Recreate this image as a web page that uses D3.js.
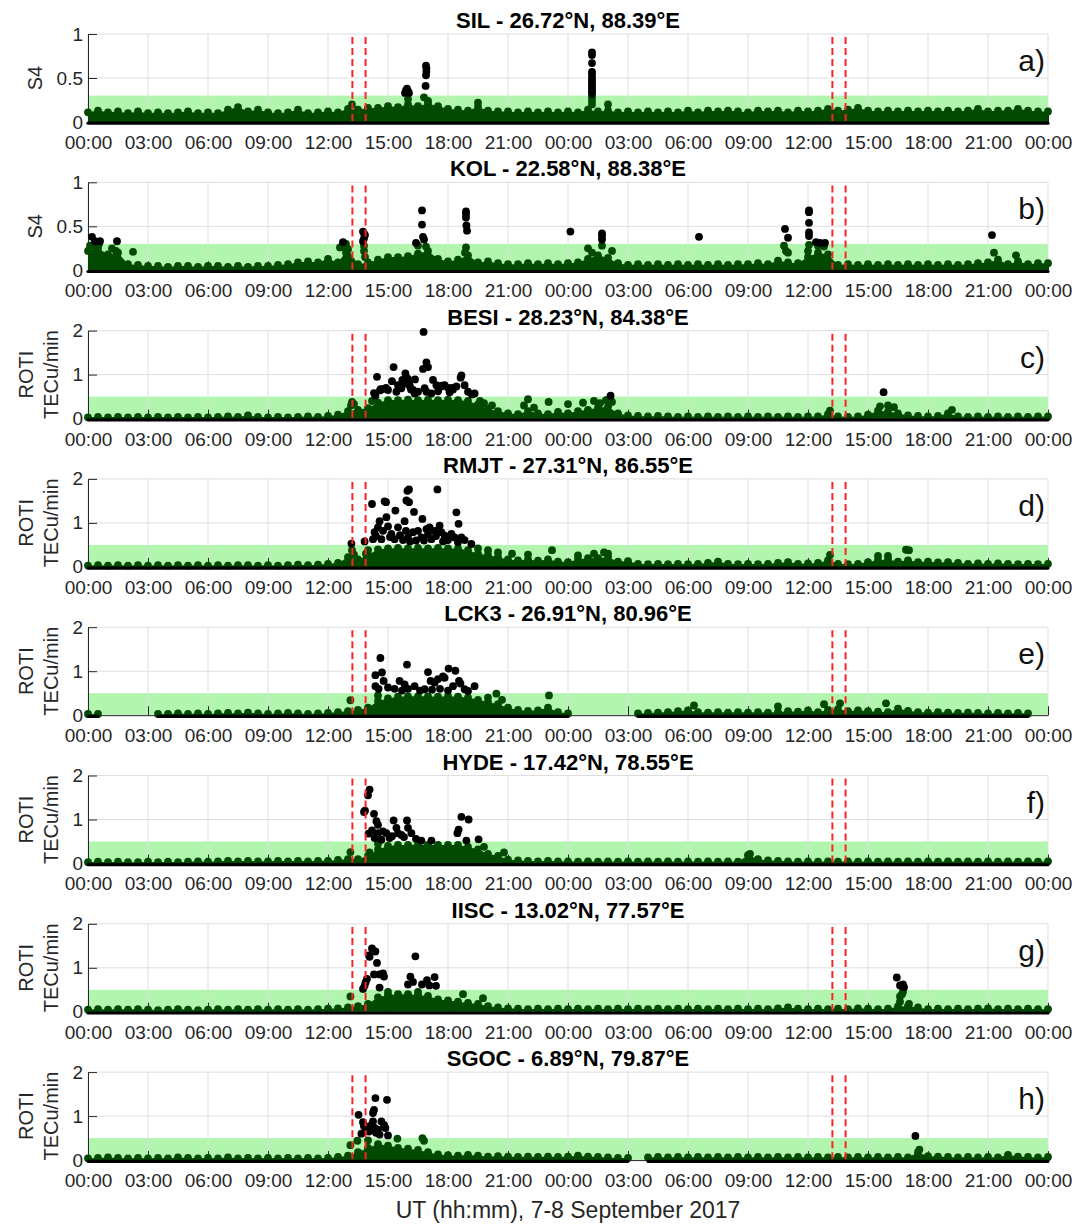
<!DOCTYPE html>
<html><head><meta charset="utf-8">
<script src="https://cdn.jsdelivr.net/npm/d3@7"></script>
<style>
body{margin:0;background:#fff}
svg{display:block}
text{font-family:"Liberation Sans",Arial,Helvetica,sans-serif}
</style>
</head><body>
<svg id="chart" width="1092" height="1224"></svg>
<script>
// ---------------- DATA ----------------
const hourTicks = [0,3,6,9,12,15,18,21,24,27,30,33,36,39,42,45,48];
const tickLabels = ["00:00","03:00","06:00","09:00","12:00","15:00","18:00","21:00","00:00","03:00","06:00","09:00","12:00","15:00","18:00","21:00","00:00"];
const stations = ["SIL - 26.72°N, 88.39°E","KOL - 22.58°N, 88.38°E","BESI - 28.23°N, 84.38°E","RMJT - 27.31°N, 86.55°E","LCK3 - 26.91°N, 80.96°E","HYDE - 17.42°N, 78.55°E","IISC - 13.02°N, 77.57°E","SGOC - 6.89°N, 79.87°E"];
const letters = ["a)","b)","c)","d)","e)","f)","g)","h)"];
const kinds = ["S4","S4","ROTI","ROTI","ROTI","ROTI","ROTI","ROTI"];
const yMax = [1,1,2,2,2,2,2,2];
const yTicksS4 = [0,0.5,1];
const yTickLabelsS4 = ["0","0.5","1"];
const yTicksROTI = [0,1,2];
const yTickLabelsROTI = ["0","1","2"];
const thresholds = [0.3,0.3,0.5,0.5,0.5,0.5,0.5,0.5];
const eventTimes = [13.22,13.88,37.22,37.88];
const xLabel = "UT (hh:mm), 7-8 September 2017";

// Upper envelope of the dense background cloud, every 30 min from 00:00 (7 Sep) to 00:00 (9 Sep); null = no data
const envA = [0.11,0.13,0.11,0.12,0.10,0.12,0.10,0.11,0.10,0.11,0.12,0.10,0.11,0.10,0.14,0.17,0.12,0.14,0.11,0.10,0.11,0.14,0.10,0.11,
  0.12,0.11,0.15,0.14,0.16,0.16,0.18,0.17,0.20,0.18,0.21,0.18,0.15,0.14,0.13,0.17,0.13,0.12,0.12,0.11,0.12,0.11,0.12,0.11,
  0.12,0.11,0.14,0.12,0.13,0.11,0.12,0.11,0.12,0.11,0.12,0.11,0.13,0.11,0.13,0.12,0.13,0.12,0.11,0.13,0.12,0.13,0.11,0.13,
  0.12,0.13,0.15,0.13,0.14,0.16,0.13,0.12,0.13,0.12,0.13,0.12,0.13,0.12,0.13,0.12,0.13,0.15,0.12,0.13,0.13,0.15,0.13,0.12,
  0.12];
const envB = [0.22,0.25,0.18,0.20,0.07,0.06,0.05,0.05,0.04,0.05,0.05,0.04,0.05,0.05,0.04,0.05,0.04,0.05,0.05,0.06,0.07,0.09,0.10,0.09,
  0.13,0.09,0.24,0.07,0.09,0.12,0.15,0.15,0.16,0.19,0.22,0.13,0.10,0.12,0.17,0.09,0.10,0.08,0.07,0.07,0.08,0.07,0.08,0.07,
  0.08,0.09,0.13,0.17,0.14,0.08,0.06,0.07,0.06,0.07,0.06,0.07,0.06,0.07,0.06,0.07,0.06,0.07,0.07,0.08,0.07,0.11,0.09,0.08,
  0.15,0.20,0.18,0.06,0.07,0.06,0.07,0.06,0.07,0.06,0.07,0.06,0.07,0.06,0.07,0.06,0.07,0.08,0.09,0.12,0.07,0.10,0.07,0.08,
  0.08];
const envC = [0.03,0.04,0.03,0.04,0.03,0.04,0.03,0.04,0.03,0.04,0.03,0.04,0.03,0.04,0.05,0.04,0.07,0.04,0.03,0.04,0.03,0.04,0.05,0.04,
  0.06,0.09,0.17,0.20,0.24,0.36,0.42,0.42,0.43,0.42,0.43,0.42,0.43,0.42,0.40,0.32,0.22,0.17,0.12,0.10,0.17,0.12,0.10,0.15,
  0.12,0.17,0.20,0.25,0.27,0.12,0.07,0.06,0.05,0.06,0.05,0.04,0.05,0.04,0.05,0.04,0.05,0.04,0.05,0.04,0.05,0.04,0.05,0.04,
  0.05,0.05,0.10,0.05,0.04,0.05,0.09,0.18,0.16,0.12,0.07,0.06,0.05,0.06,0.12,0.05,0.04,0.05,0.04,0.05,0.04,0.05,0.04,0.05,
  0.05];
const envD = [0.03,0.04,0.03,0.04,0.03,0.04,0.03,0.04,0.03,0.04,0.03,0.04,0.03,0.04,0.03,0.04,0.04,0.03,0.04,0.03,0.04,0.05,0.04,0.05,
  0.07,0.09,0.22,0.17,0.27,0.40,0.42,0.43,0.42,0.43,0.42,0.43,0.42,0.42,0.38,0.30,0.27,0.22,0.17,0.15,0.17,0.14,0.17,0.12,
  0.11,0.17,0.20,0.20,0.22,0.12,0.13,0.07,0.06,0.07,0.06,0.07,0.06,0.07,0.09,0.12,0.07,0.06,0.07,0.06,0.07,0.09,0.11,0.07,
  0.08,0.09,0.15,0.07,0.06,0.07,0.11,0.15,0.17,0.12,0.15,0.11,0.12,0.10,0.11,0.09,0.07,0.08,0.07,0.08,0.07,0.06,0.07,0.06,
  0.07];
const envE = [0.03,0.03,null,null,null,null,null,0.03,0.03,0.04,0.03,0.04,0.03,0.04,0.05,0.04,0.06,0.04,0.03,0.04,0.05,0.04,0.03,0.04,
  0.05,0.07,0.09,0.12,0.17,0.32,0.38,0.42,0.43,0.43,0.43,0.42,0.43,0.42,0.40,0.35,0.30,0.25,0.17,0.12,0.10,0.11,0.17,0.07,
  0.04,null,null,null,null,null,null,0.04,0.05,0.06,0.07,0.09,0.11,0.07,0.06,0.07,0.06,0.07,0.06,0.07,0.06,0.07,0.09,0.08,
  0.11,0.07,0.12,0.14,0.09,0.11,0.09,0.08,0.07,0.15,0.10,0.07,0.06,0.07,0.06,0.05,0.06,0.05,0.04,0.05,0.04,0.05,0.04,null,
  null];
const envF = [0.03,0.04,0.03,0.04,0.03,0.03,0.04,0.03,0.04,0.03,0.04,0.05,0.04,0.05,0.06,0.05,0.06,0.05,0.05,0.06,0.05,0.06,0.05,0.06,
  0.06,0.08,0.10,0.10,0.17,0.32,0.40,0.42,0.42,0.43,0.42,0.42,0.42,0.42,0.38,0.32,0.22,0.17,0.09,0.07,0.06,0.05,0.06,0.05,
  0.05,0.04,0.05,0.04,0.05,0.04,0.05,0.04,0.05,0.04,0.05,0.04,0.05,0.04,0.05,0.04,0.05,0.04,0.19,0.10,0.07,0.06,0.05,0.04,
  0.05,0.04,0.05,0.04,0.05,0.04,0.05,0.04,0.05,0.04,0.05,0.04,0.05,0.04,0.05,0.04,0.05,0.04,0.05,0.04,0.05,0.04,0.05,0.04,
  0.05];
const envG = [0.05,0.06,0.05,0.06,0.05,0.06,0.05,0.04,0.05,0.06,0.05,0.04,0.05,0.06,0.05,0.06,0.05,0.06,0.05,0.06,0.05,0.06,0.05,0.06,
  0.07,0.08,0.10,0.13,0.18,0.33,0.38,0.40,0.40,0.38,0.36,0.28,0.26,0.23,0.20,0.18,0.13,0.10,0.08,0.07,0.06,0.07,0.06,0.07,
  0.06,0.07,0.06,0.07,0.06,0.07,0.06,0.07,0.06,0.07,0.06,0.07,0.06,0.07,0.06,0.07,0.06,0.07,0.06,0.07,0.06,0.08,0.10,0.07,
  0.06,0.07,0.06,0.07,0.06,0.08,0.07,0.06,0.07,0.12,0.13,0.10,0.06,0.07,0.06,0.07,0.06,0.07,0.08,0.06,0.07,0.06,0.07,0.06,
  0.06];
const envH = [0.04,0.05,0.06,0.05,0.04,0.05,0.04,0.05,0.04,0.06,0.05,0.04,0.05,0.04,0.06,0.04,0.05,0.04,0.05,0.04,0.05,0.04,0.05,0.04,
  0.05,0.07,0.10,0.18,0.28,0.36,0.33,0.28,0.26,0.23,0.18,0.13,0.11,0.10,0.12,0.10,0.08,0.09,0.08,0.07,0.08,0.07,0.08,0.07,
  0.08,0.10,0.08,0.07,0.06,0.05,0.05,null,0.06,0.07,0.06,0.07,0.06,0.07,0.06,0.07,0.06,0.07,0.06,0.07,0.06,0.07,0.06,0.07,
  0.06,0.07,0.06,0.07,0.06,0.07,0.06,0.07,0.06,0.07,0.06,0.18,0.09,0.08,0.07,0.06,0.07,0.06,0.07,0.06,0.12,0.08,0.07,0.06,
  0.07];

// Individual points standing out of the cloud: [hour since 00:00 7 Sep, value]
const ptsA = [[15.85,0.33],[15.9,0.36],[15.95,0.38],[16.0,0.35],[16.05,0.33],[16.9,0.64],[16.92,0.61],[16.92,0.57],[16.9,0.53],[16.88,0.41],[16.8,0.28],
  [25.2,0.79],[25.2,0.76],[25.2,0.67],[25.2,0.57],[25.2,0.54],[25.2,0.5],[25.2,0.47],[25.2,0.44],[25.2,0.41],[25.2,0.38],[25.2,0.35],[25.2,0.32],[25.2,0.28],[25.2,0.24],[25.2,0.2],
  [13.2,0.2],[16.0,0.26],[17.0,0.24],[19.5,0.22],[26.0,0.2]];
const ptsB = [[0.2,0.38],[0.35,0.33],[0.6,0.33],[0.55,0.3],[1.45,0.33],[12.75,0.32],[12.9,0.3],[13.75,0.44],[13.8,0.42],[13.85,0.4],[13.8,0.36],[13.75,0.33],
  [16.4,0.31],[16.7,0.68],[16.7,0.52],[16.75,0.38],[16.8,0.35],[18.9,0.67],[18.9,0.64],[18.9,0.6],[18.92,0.51],[18.95,0.45],
  [24.12,0.44],[25.7,0.42],[25.7,0.39],[25.7,0.35],[30.55,0.38],[34.85,0.47],[35.0,0.37],[36.05,0.68],[36.05,0.66],[36.05,0.54],[36.05,0.43],[36.05,0.39],
  [36.4,0.32],[36.6,0.31],[36.85,0.31],[45.2,0.4],
  [0.1,0.28],[0.4,0.25],[1.2,0.25],[1.4,0.22],[2.25,0.21],[12.6,0.26],[12.8,0.27],[12.9,0.2],[13.8,0.28],[13.8,0.22],[13.85,0.15],[16.5,0.28],[16.9,0.27],
  [18.9,0.26],[18.85,0.2],[25.0,0.25],[25.2,0.2],[25.7,0.28],[26.2,0.22],[34.8,0.28],[34.9,0.22],[35.0,0.2],[36.05,0.29],[36.0,0.22],[36.5,0.28],[36.8,0.27],[45.3,0.2],[46.4,0.17]];
const ptsC = [[16.78,1.97],[14.45,0.95],[15.28,1.17],[16.92,1.28],[16.75,1.13],[17.0,1.17],[15.87,1.03],[15.72,0.88],[15.2,0.85],[14.75,0.67],[14.63,0.67],[14.37,0.52],
  [15.0,0.65],[15.5,0.76],[15.67,0.69],[15.83,0.8],[15.95,0.84],[16.1,0.73],[16.25,0.65],[16.5,0.61],[16.83,0.69],[16.92,0.61],[17.25,0.88],[17.42,0.76],
  [17.67,0.73],[17.83,0.76],[18.25,0.66],[18.42,0.73],[18.67,0.98],[18.63,0.93],[18.83,0.76],[19.0,0.61],[19.33,0.57],[15.42,0.61],[17.17,0.57],[18.08,0.6],
  [16.33,0.57],[15.9,0.95],[16.0,0.9],[16.05,0.78],[15.6,0.72],[17.5,0.62],[18.0,0.7],[19.2,0.55],[14.3,0.58],[14.6,0.64],[14.9,0.7],[16.35,0.89],[16.15,0.66],
  [17.7,0.75],[18.2,0.7],[26.13,0.52],[39.78,0.6],
  [13.2,0.38],[13.15,0.3],[13.3,0.33],[22.0,0.44],[23.03,0.38],[24.75,0.36],[25.3,0.4],[25.6,0.35],[25.9,0.42],[26.05,0.44],[26.2,0.38],[24.0,0.33],
  [39.6,0.28],[40.0,0.3],[40.3,0.26],[43.2,0.2],[37.1,0.18],[14.2,0.4],[19.6,0.4],[19.8,0.35],[20.2,0.3],[21.8,0.3],[22.3,0.25]];
const ptsD = [[17.47,1.76],[15.97,1.73],[16.05,1.76],[15.92,1.51],[16.05,1.47],[14.83,1.49],[14.9,1.47],[14.2,1.43],[15.37,1.28],[16.3,1.25],[14.92,1.13],
  [14.58,1.04],[15.83,1.04],[16.72,1.09],[18.42,1.24],[18.53,0.98],[14.5,0.9],[15.0,0.92],[15.5,0.9],[14.33,0.79],[14.75,0.82],[15.17,0.75],[16.25,0.79],
  [16.5,0.82],[16.92,0.86],[17.08,0.9],[17.33,0.82],[17.58,0.94],[17.67,0.79],[17.83,0.71],[18.17,0.75],[18.33,0.67],[18.67,0.67],[18.83,0.61],[14.25,0.63],
  [14.67,0.63],[15.33,0.63],[15.75,0.61],[16.0,0.67],[16.67,0.67],[17.17,0.63],[19.17,0.52],[13.17,0.53],[13.83,0.58],[18.0,0.61],[15.1,0.68],[15.6,0.72],
  [16.1,0.58],[16.8,0.6],[17.4,0.7],[17.9,0.62],[18.5,0.56],[14.4,0.7],[15.9,0.82],[16.4,0.6],[17.0,0.74],[17.75,0.58],
  [13.2,0.38],[13.3,0.28],[23.2,0.38],[40.9,0.39],[41.05,0.38],[37.1,0.27],[39.5,0.25],[40.0,0.25],[25.3,0.3],[25.8,0.33],[24.5,0.26],[26.0,0.3],
  [19.5,0.42],[20.0,0.38],[20.5,0.33],[21.2,0.3],[22.0,0.28],[14.0,0.38],[13.9,0.3]];
const ptsE = [[14.62,1.3],[15.95,1.15],[14.37,0.91],[14.7,0.97],[14.78,0.78],[14.37,0.66],[14.53,0.6],[15.58,0.78],[15.83,0.7],[16.33,0.66],[17.0,0.98],
  [17.13,0.78],[17.33,0.74],[17.5,0.82],[17.75,0.88],[18.03,1.06],[18.37,1.01],[17.83,0.85],[18.55,0.78],[18.62,0.72],[18.25,0.66],[18.83,0.59],[19.33,0.66],
  [15.33,0.6],[16.83,0.59],[15.0,0.63],[16.0,0.6],[16.6,0.56],[17.6,0.6],[18.0,0.56],[19.0,0.55],[15.7,0.56],[17.2,0.58],
  [13.12,0.34],[23.05,0.45],[20.42,0.49],[20.0,0.4],[20.7,0.35],[14.5,0.45],[36.8,0.25],[37.6,0.27],[39.9,0.27],[30.3,0.22],[34.5,0.2]];
const ptsF = [[14.08,1.68],[14.0,1.55],[13.8,1.17],[13.85,1.2],[14.3,1.13],[14.42,0.96],[14.5,0.88],[14.03,0.68],[14.5,0.69],[14.75,0.73],[14.92,0.69],
  [15.28,0.98],[15.42,0.81],[15.5,0.69],[15.95,0.98],[16.0,0.81],[16.17,0.69],[15.67,0.65],[14.33,0.58],[14.67,0.54],[15.08,0.58],[16.67,0.52],[17.17,0.52],
  [18.53,0.77],[18.47,0.69],[18.67,1.06],[19.03,1.0],[19.53,0.55],[18.92,0.52],[15.2,0.62],[15.8,0.6],[16.4,0.56],[14.2,0.75],
  [13.12,0.26],[14.08,0.25],[20.8,0.25],[19.8,0.38],[14.5,0.45],[33.1,0.22]];
const ptsG = [[14.2,1.44],[14.37,1.37],[14.08,1.25],[14.05,1.28],[14.45,1.11],[16.37,1.26],[13.95,0.75],[14.3,0.85],[14.58,0.85],[14.75,0.87],[14.8,0.8],
  [13.83,0.59],[13.88,0.67],[14.58,0.55],[16.12,0.8],[16.25,0.68],[16.0,0.62],[16.95,0.72],[17.33,0.79],[17.4,0.59],[17.07,0.6],[16.7,0.62],[13.75,0.52],
  [40.44,0.78],[40.6,0.6],[40.7,0.58],[40.8,0.56],[40.75,0.62],
  [13.12,0.35],[18.75,0.4],[19.75,0.31],[40.6,0.35],[40.6,0.23],[41.05,0.18],[40.75,0.45],[40.7,0.4],[15.0,0.45],[16.5,0.45]];
const ptsH = [[14.37,1.41],[14.95,1.37],[13.53,1.03],[14.3,1.14],[14.25,1.07],[13.75,0.86],[13.8,0.77],[14.25,0.88],[14.67,0.88],[14.8,0.8],[14.87,0.73],
  [13.92,0.73],[14.05,0.65],[14.33,0.73],[14.5,0.69],[13.67,0.6],[14.58,0.58],[15.0,0.56],[14.1,0.78],[14.4,0.62],[41.37,0.55],
  [13.12,0.34],[13.47,0.44],[15.47,0.49],[16.72,0.5],[16.8,0.44],[41.57,0.24],[14.0,0.45]];

const envs = [envA,envB,envC,envD,envE,envF,envG,envH];
const pts = [ptsA,ptsB,ptsC,ptsD,ptsE,ptsF,ptsG,ptsH];

// ---------------- DRAW ----------------
const GREEN = "#024a02", BAND = "#b1f5ae", GRID = "#dedede", AXIS = "#262626";
const svg = d3.select("#chart");
svg.append("rect").attr("width",1092).attr("height",1224).attr("fill","#fff");
const L = 88, R = 1048, PH = 88, STEP = 148.3, TOP0 = 34, RAD = 3.9;
const x = d3.scaleLinear().domain([0,48]).range([L,R]);

stations.forEach((name,i)=>{
  const top = TOP0 + i*STEP, bot = top + PH;
  const y = d3.scaleLinear().domain([0,yMax[i]]).range([bot,top]);
  const yt = kinds[i]==="S4" ? yTicksS4 : yTicksROTI;
  const ytl = kinds[i]==="S4" ? yTickLabelsS4 : yTickLabelsROTI;
  const g = svg.append("g");

  // threshold band
  g.append("rect").attr("x",x(0)).attr("y",y(thresholds[i]))
    .attr("width",x(48)-x(0)).attr("height",y(0)-y(thresholds[i])).attr("fill",BAND);

  // grid
  g.selectAll(".vg").data(hourTicks).join("line")
    .attr("x1",d=>x(d)).attr("x2",d=>x(d)).attr("y1",top).attr("y2",bot)
    .attr("stroke",GRID).attr("stroke-width",1);
  g.selectAll(".hg").data(yt).join("line")
    .attr("x1",L).attr("x2",R).attr("y1",d=>y(d)).attr("y2",d=>y(d))
    .attr("stroke",GRID).attr("stroke-width",1);

  // axes
  const ax = g.append("g").attr("transform",`translate(0,${bot})`)
    .call(d3.axisBottom(x).tickValues(hourTicks).tickFormat((d,k)=>tickLabels[k])
      .tickSizeInner(-9).tickSizeOuter(0).tickPadding(13.5));
  const ay = g.append("g").attr("transform",`translate(${L},0)`)
    .call(d3.axisLeft(y).tickValues(yt).tickFormat((d,k)=>ytl[k])
      .tickSizeInner(-9).tickSizeOuter(0).tickPadding(5));
  [ax,ay].forEach(a=>{
    a.select(".domain").attr("stroke",AXIS).attr("stroke-width",1);
    a.selectAll(".tick line").attr("stroke",AXIS);
    a.selectAll("text").attr("fill",AXIS).style("font-size","19px")
      .style("font-family",'"Liberation Sans",Arial,sans-serif');
  });

  // background cloud
  const envPts = envs[i].map((v,k)=>({t:k*0.5, v:v}));
  const area = d3.area().defined(d=>d.v!=null).x(d=>x(d.t)).y0(y(0)).y1(d=>y(d.v));
  g.append("path").attr("d",area(envPts)).attr("fill",GREEN);
  g.selectAll(".ec").data(envPts.filter(d=>d.v!=null)).join("circle")
    .attr("cx",d=>x(d.t)).attr("cy",d=>y(d.v)).attr("r",RAD).attr("fill",GREEN);
  const base = d3.line().defined(d=>d.v!=null).x(d=>x(d.t)).y(()=>y(0)+1.2);
  g.append("path").attr("d",base(envPts)).attr("fill","none")
    .attr("stroke","#000").attr("stroke-width",3.2).attr("stroke-linecap","round");

  // individual points
  const P = pts[i].map(p=>({t:p[0], v:p[1]}));
  g.selectAll(".gp").data(P.filter(d=>d.v<=thresholds[i])).join("circle")
    .attr("cx",d=>x(d.t)).attr("cy",d=>y(d.v)).attr("r",RAD).attr("fill",GREEN);
  g.selectAll(".bp").data(P.filter(d=>d.v>thresholds[i])).join("circle")
    .attr("cx",d=>x(d.t)).attr("cy",d=>y(d.v)).attr("r",RAD).attr("fill","#000");

  // event lines
  g.selectAll(".ev").data(eventTimes).join("line")
    .attr("x1",d=>x(d)).attr("x2",d=>x(d)).attr("y1",y(yMax[i]*0.965)).attr("y2",bot)
    .attr("stroke","#ff2222").attr("stroke-width",2).attr("stroke-dasharray","7,4");

  // title, letter, y label
  g.append("text").attr("x",(L+R)/2).attr("y",top-6).attr("text-anchor","middle")
    .style("font-size","22px").style("font-weight","bold").attr("fill","#000").text(name);
  g.append("text").attr("x",1045).attr("y",top+37).attr("text-anchor","end")
    .style("font-size","30px").attr("fill","#111").text(letters[i]);
  const cy = (top+bot)/2;
  if(kinds[i]==="S4"){
    g.append("text").attr("transform",`translate(35,${cy}) rotate(-90)`).attr("text-anchor","middle")
      .attr("dominant-baseline","central").style("font-size","20px").attr("fill",AXIS).text("S4");
  } else {
    g.append("text").attr("transform",`translate(26,${cy}) rotate(-90)`).attr("text-anchor","middle")
      .attr("dominant-baseline","central").style("font-size","20px").attr("fill",AXIS).text("ROTI");
    g.append("text").attr("transform",`translate(51,${cy}) rotate(-90)`).attr("text-anchor","middle")
      .attr("dominant-baseline","central").style("font-size","20px").attr("fill",AXIS).text("TECu/min");
  }
});

svg.append("text").attr("x",(L+R)/2).attr("y",1218).attr("text-anchor","middle")
  .style("font-size","23px").attr("fill",AXIS).text(xLabel);
</script>
</body></html>
